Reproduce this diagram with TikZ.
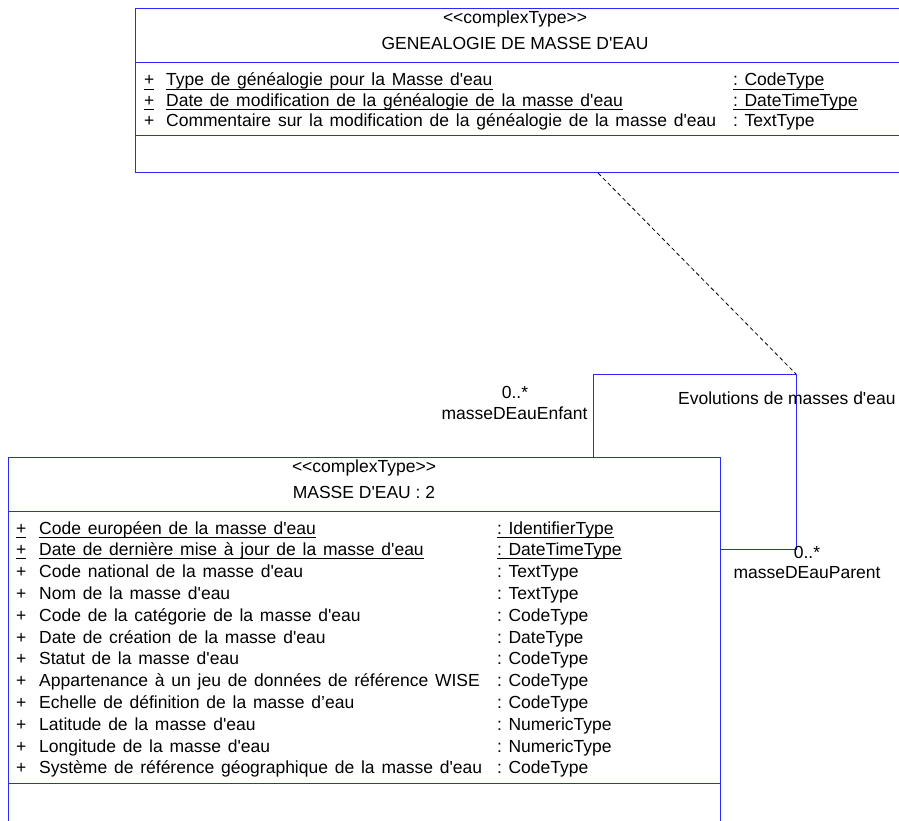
\documentclass[tikz,border=0pt]{standalone}
\usepackage{fontspec}
\newfontfamily\umlfont{Liberation Sans}
\newsavebox\ulbox
\newcommand{\attrul}[1]{\sbox\ulbox{#1}\rlap{\rule[-3.5pt]{\wd\ulbox}{0.9pt}}\usebox\ulbox}
\newcommand{\attrsp}{\spaceskip=6.8pt\relax}
\definecolor{umlblue}{RGB}{40,40,255}

\begin{document}
\begin{tikzpicture}[x=1pt,y=-1pt,
    classbox/.style={draw=umlblue, line width=1pt, anchor=north west, inner sep=0pt, outer sep=0pt},
    sepline/.style={draw=umlblue, line width=1pt},
    assoc/.style={draw=umlblue, line width=1pt},
    linkline/.style={dash pattern=on 4pt off 3pt, line width=0.8pt},
    txt/.style={inner sep=0pt, anchor=base west, font=\umlfont\fontsize{17.5}{20}\selectfont},
    attr/.style={txt, font={\umlfont\fontsize{17.5}{20}\selectfont\attrsp}}]
    \useasboundingbox (0,0) rectangle (899,821);

    %Boxes
    \node[classbox, minimum width=770pt, minimum height=164pt] (genealogie) at (135,9) {};
    \node[classbox, minimum width=712pt, minimum height=400pt] (masse) at (8,457) {};

    %Compartments
    \draw[sepline] ([yshift=-54pt]genealogie.north west) -- ([yshift=-54pt]genealogie.north east);
    \draw[sepline] ([yshift=-127pt]genealogie.north west) -- ([yshift=-127pt]genealogie.north east);
    \draw[sepline] ([yshift=-54pt]masse.north west) -- ([yshift=-54pt]masse.north east);
    \draw[sepline] ([yshift=-326pt]masse.north west) -- ([yshift=-326pt]masse.north east);

    %Headers
    \node[txt, anchor=base] (genStereo) at (515,24) {<<complexType>>};
    \node[txt, anchor=base] (genName) at (515,50) {GENEALOGIE DE MASSE D'EAU};
    \node[txt, anchor=base] (masseStereo) at (364,472) {<<complexType>>};
    \node[txt, anchor=base] (masseName) at (364,498) {MASSE D'EAU : 2};

    %Attributes
    \foreach \nom/\typ [count=\i] in {
        Type de généalogie pour la Masse d'eau/: CodeType,
        Date de modification de la généalogie de la masse d'eau/: DateTimeType,
        Commentaire sur la modification de la généalogie de la masse d'eau/: TextType}{
        \ifnum\i<3 \def\deco{\attrul}\else\def\deco{}\fi
        \node[attr] (gplus\i) at (144,{86+20.5*(\i-1)}) {\deco{+}};
        \node[attr] (gnom\i) at (166,{86+20.5*(\i-1)}) {\deco{\nom}};
        \node[txt] (gtyp\i) at (733,{86+20.5*(\i-1)}) {\deco{\typ}};
    }
    \foreach \nom/\typ [count=\i] in {
        Code européen de la masse d'eau/: IdentifierType,
        Date de dernière mise à jour de la masse d'eau/: DateTimeType,
        Code national de la masse d'eau/: TextType,
        Nom de la masse d'eau/: TextType,
        Code de la catégorie de la masse d'eau/: CodeType,
        Date de création de la masse d'eau/: DateType,
        Statut de la masse d'eau/: CodeType,
        Appartenance à un jeu de données de référence WISE/: CodeType,
        Echelle de définition de la masse d’eau/: CodeType,
        Latitude de la masse d'eau/: NumericType,
        Longitude de la masse d'eau/: NumericType,
        Système de référence géographique de la masse d'eau/: CodeType}{
        \ifnum\i<3 \def\deco{\attrul}\else\def\deco{}\fi
        \node[attr] (mplus\i) at (16,{534+21.8*(\i-1)}) {\deco{+}};
        \node[attr] (mnom\i) at (39,{534+21.8*(\i-1)}) {\deco{\nom}};
        \node[txt] (mtyp\i) at (497,{534+21.8*(\i-1)}) {\deco{\typ}};
    }

    %Association
    \coordinate (enfantEnd) at ([xshift=585pt]masse.north west);
    \coordinate (parentEnd) at ([yshift=-92pt]masse.north east);
    \coordinate (assocCorner) at (796,374);
    \coordinate (linkEnd) at ([xshift=463pt]genealogie.south west);
    \draw[assoc] (enfantEnd) |- (assocCorner) |- (parentEnd);
    \draw[linkline] (linkEnd) -- (assocCorner);

    %Roles
    \node[txt, anchor=base] (multEnfant) at (515,398) {0..*};
    \node[txt, anchor=base] (roleEnfant) at (514.5,419) {masseDEauEnfant};
    \node[txt] (assocName) at (678,404) {Evolutions de masses d'eau};
    \node[txt, anchor=base] (multParent) at (807,558) {0..*};
    \node[txt, anchor=base] (roleParent) at (807,578) {masseDEauParent};
\end{tikzpicture}
\end{document}
